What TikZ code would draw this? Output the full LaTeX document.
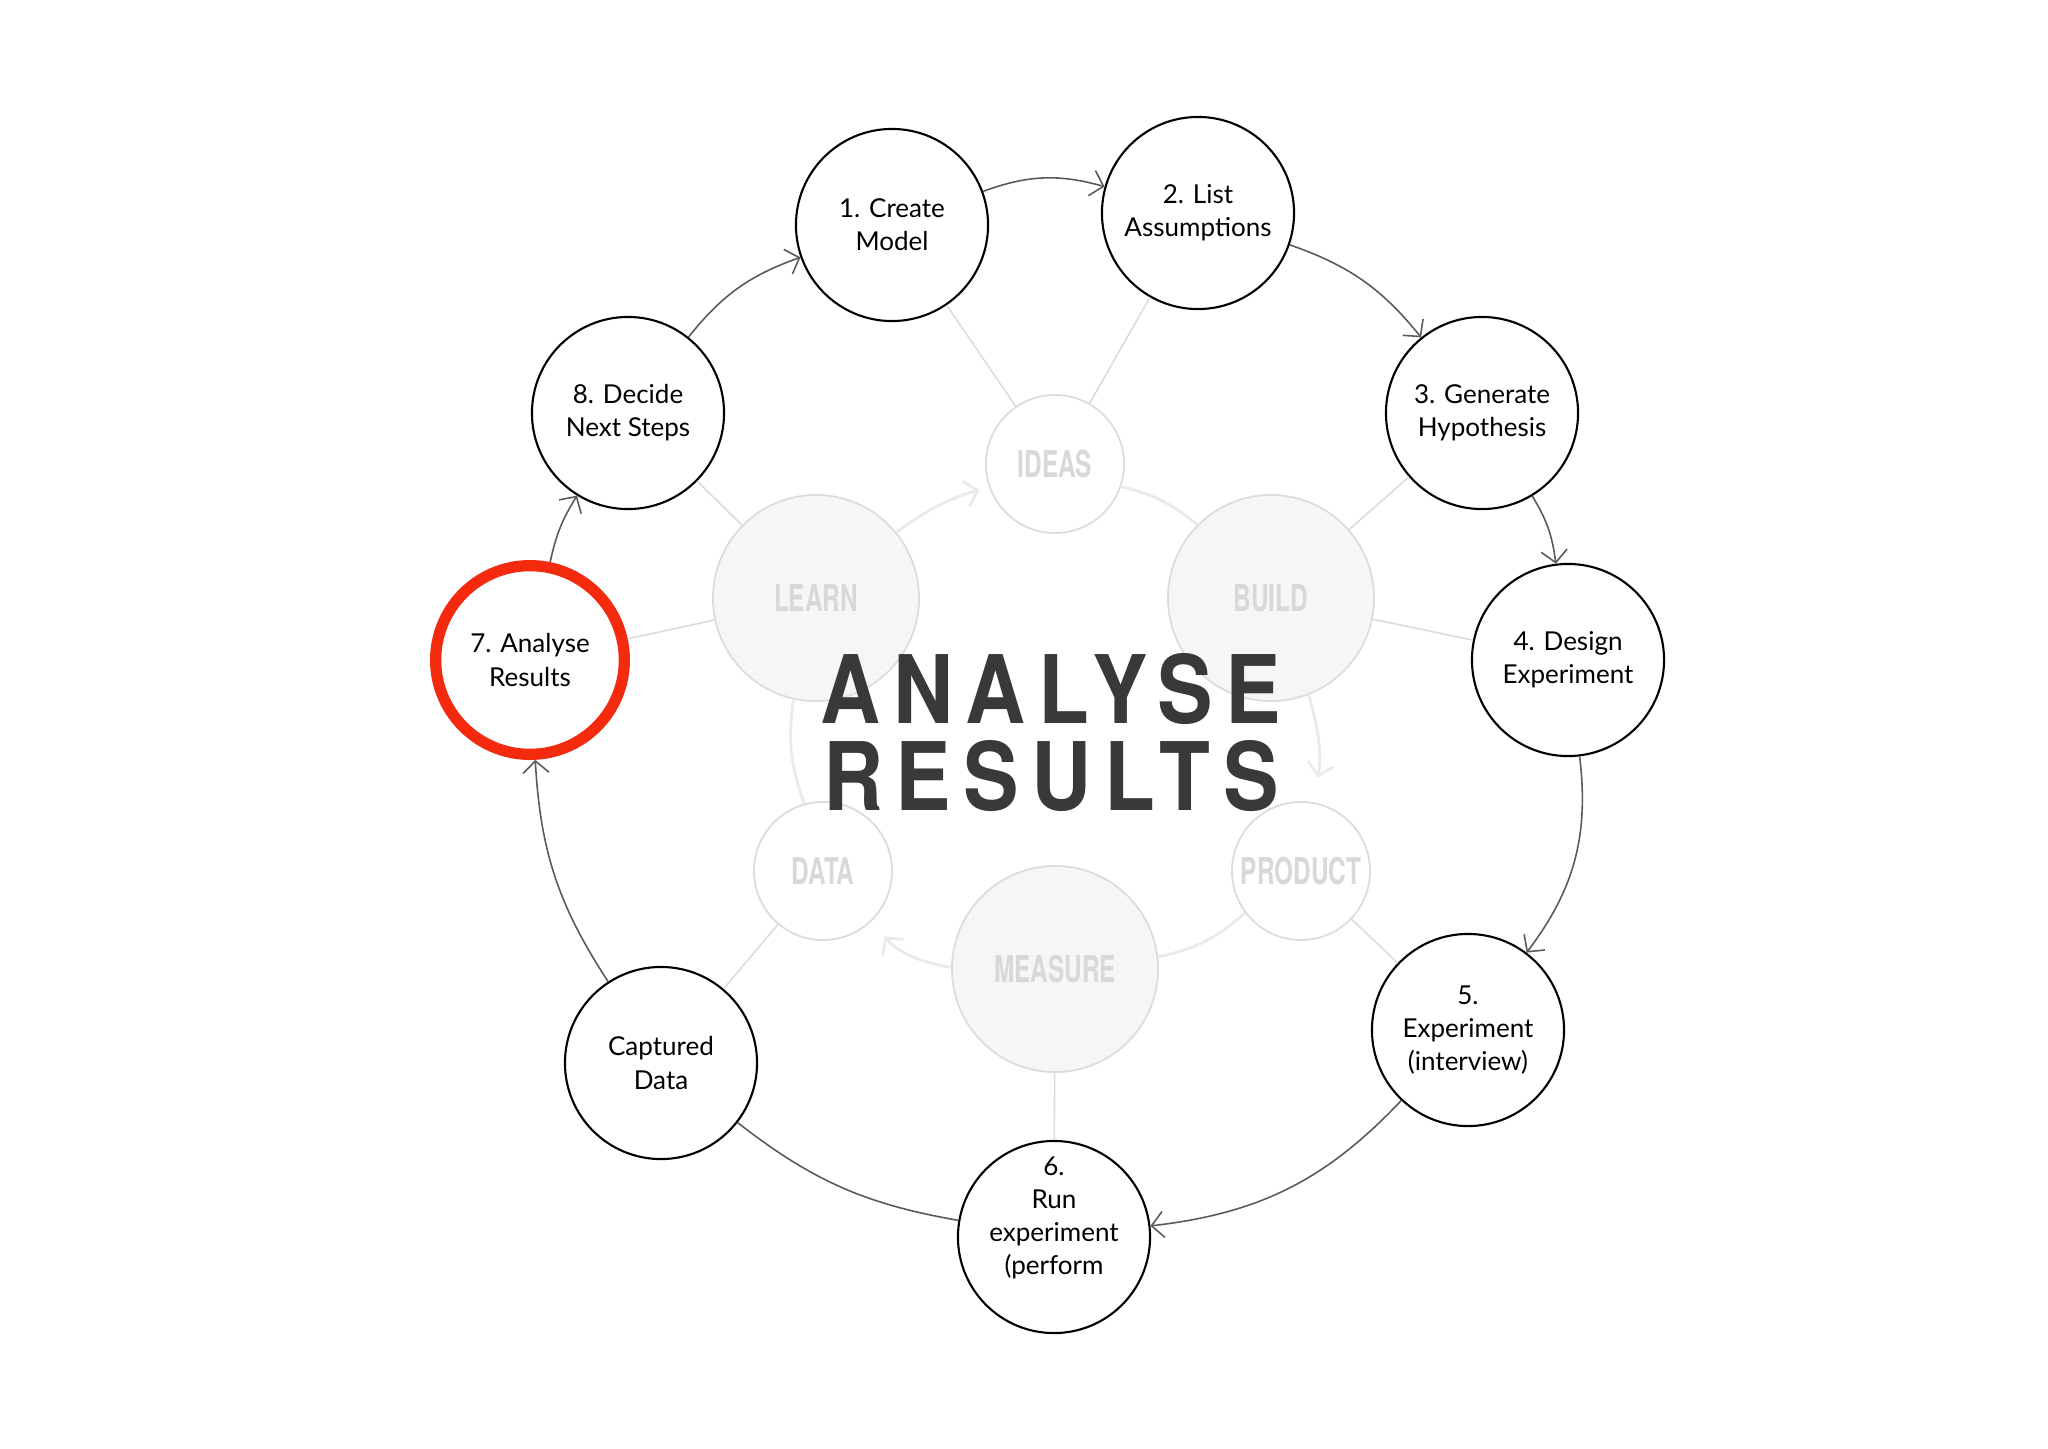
\documentclass[tikz,border=0pt]{standalone}
\usepackage{fontspec}
\setmainfont{Lato}
\newfontfamily\headfont[LetterSpace=15]{TeX Gyre Heros}
\newfontfamily\tagfont{TeX Gyre Heros}
\usepackage{tikz}
\usetikzlibrary{positioning, arrows.meta}

\definecolor{ink}{HTML}{3A3939}
\definecolor{accent}{HTML}{F42A0F}
\definecolor{arrowgray}{HTML}{5A5A5A}
\definecolor{faintline}{HTML}{DCDCDC}
\definecolor{faintfill}{HTML}{F6F6F6}
\definecolor{faintarc}{HTML}{EAEAEA}
\definecolor{faintlabel}{HTML}{D8D8D8}

\newcommand\hublabel[1]{\scalebox{0.66}[1]{\tagfont\bfseries #1}}
\newcommand\bigword[1]{\scalebox{0.88}[1]{#1}}

\tikzset{
  stage/.style={circle, draw=black, line width=0.6pt, fill=white, minimum size=1.92cm, inner sep=0pt, align=center, font=\fontsize{7.4}{9.4}\selectfont},
  focus/.style={stage, draw=accent, line width=3.2pt, minimum size=1.886cm},
  hub/.style={circle, draw=faintline, line width=0.5pt, fill=faintfill, minimum size=2.06cm, inner sep=0pt, text=faintlabel, font=\fontsize{10.5}{12}\selectfont},
  spoke/.style={hub, fill=white, minimum size=1.38cm},
  flow/.style={->, draw=arrowgray, line width=0.45pt},
  tie/.style={draw=faintline, line width=0.45pt},
  cyc/.style={draw=faintarc, line width=0.8pt},
  headline/.style={anchor=base, inner sep=0pt, text=ink, font=\headfont\bfseries\fontsize{26.9}{30}\selectfont},
  >={Straight Barb[length=1.2mm, width=2.6mm]}
}

\begin{document}
\begin{tikzpicture}[x=0.01cm, y=-0.01cm]
        \path[fill=white] (0,0) rectangle (2048,1448);
        \useasboundingbox (0,0) rectangle (2048,1448);
        %---------------------------
        \node[hub] (learn) at (816,598) {\hublabel{LEARN}};
        \node[hub] (build) at (1271,598) {\hublabel{BUILD}};
        \node[hub] (measure) at (1055,969) {\hublabel{MEASURE}};
        \node[spoke] (ideas) at (1055,464) {\hublabel{IDEAS}};
        \node[spoke] (data) at (823,871) {\hublabel{DATA}};
        \node[spoke] (product) at (1301,871) {\hublabel{PRODUCT}};
        %---------------------------
        \node[stage] (n1) at (892,225) {1. Create\\Model};
        \node[stage] (n2) at (1198,213) {2. List\\Assumptions};
        \node[stage] (n3) at (1482,413) {3. Generate\\Hypothesis};
        \node[stage] (n4) at (1568,660) {4. Design\\Experiment};
        \node[stage] (n5) at (1468,1030) {5.\\Experiment\\(interview)};
        \node[stage, inner sep=-5pt] (n6) at (1054,1237) {6.\\Run\\experiment\\(perform\\\strut};
        \node[stage] (cap) at (661,1063) {Captured\\Data};
        \node[focus] (n7) at (530,660) {7. Analyse\\Results};
        \node[stage] (n8) at (628,413) {8. Decide\\Next Steps};
        %--------------------------
        \path[tie]
        (n1) edge (ideas)
        (n2) edge (ideas)
        (n8) edge (learn)
        (n7) edge (learn)
        (n3) edge (build)
        (n4) edge (build)
        (cap) edge (data)
        (n5) edge (product)
        (n6) edge (measure);
        \path[cyc]
        (learn) edge[->, bend left=10, shorten >=0.1cm] (ideas)
        (ideas) edge[bend left=13] (build)
        (build) edge[->, bend left=15, shorten >=0.25cm] (product)
        (product) edge[bend left=15] (measure)
        (measure) edge[->, bend left=22, shorten >=0.2cm] (data)
        (data) edge[bend left=14] (learn);
        \path[flow]
        (n1) edge[bend left=18] (n2)
        (n2) edge[bend left=16] (n3)
        (n3) edge[bend left=12] (n4)
        (n4) edge[bend left=22] (n5)
        (n5) edge[bend left=20] (n6)
        (n6) edge[-, bend left=14] (cap)
        (cap) edge[bend left=15] (n7)
        (n7) edge[bend left=10] (n8)
        (n8) edge[bend left=16] (n1);
        %--------------------------
        \node[headline] (analyse) at (1051,723) {\bigword{ANALYSE}};
        \node[headline] (results) at (1051,810) {\bigword{RESULTS}};
\end{tikzpicture}
\end{document}
